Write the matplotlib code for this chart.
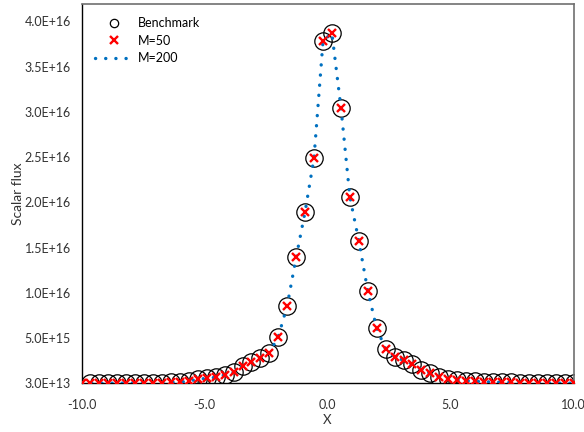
import matplotlib
matplotlib.use('Agg')
import matplotlib.pyplot as plt
from matplotlib.lines import Line2D

# ---- data ----
x_pos = [-10.00, -9.64, -9.27, -8.91, -8.55, -8.18, -7.82, -7.45, -7.09, -6.73,
         -6.36, -6.00, -5.64, -5.27, -4.91, -4.55, -4.18, -3.82, -3.45, -3.09,
         -2.73, -2.36, -2.00, -1.64, -1.27, -0.91, -0.55, -0.18, 0.18, 0.55,
         0.91, 1.27, 1.64, 2.00, 2.36, 2.73, 3.09, 3.45, 3.82, 4.18,
         4.55, 4.91, 5.27, 5.64, 6.00, 6.36, 6.73, 7.09, 7.45, 7.82,
         8.18, 8.55, 8.91, 9.27, 9.64, 10.00]

m50 = [3.0e13, 3.5e13, 4.0e13, 4.5e13, 5.0e13, 6.0e13, 7.0e13, 8.0e13, 9.0e13, 1.1e14,
       1.3e14, 1.5e14, 2.8e14, 4.7e14, 5.8e14, 6.9e14, 9.5e14, 1.25e15, 1.91e15, 2.42e15,
       2.86e15, 3.41e15, 5.18e15, 8.6e15, 1.40e16, 1.90e16, 2.49e16, 3.79e16, 3.87e16, 3.04e16,
       2.06e16, 1.58e16, 1.02e16, 6.1e15, 3.82e15, 2.97e15, 2.57e15, 2.14e15, 1.55e15, 1.14e15,
       6.9e14, 5.4e14, 4.0e14, 3.2e14, 2.5e14, 2.1e14, 1.7e14, 1.4e14, 1.2e14, 1.0e14,
       9.0e13, 8.0e13, 7.0e13, 6.0e13, 5.0e13, 4.0e13]

bench_x = x_pos[1:]
benchmark = [3.5e13, 4.0e13, 4.5e13, 5.0e13, 6.0e13, 7.0e13, 8.0e13, 9.0e13, 1.1e14,
             1.3e14, 1.5e14, 2.8e14, 4.7e14, 5.8e14, 6.9e14, 9.5e14, 1.25e15, 1.91e15, 2.42e15,
             2.86e15, 3.41e15, 5.18e15, 8.6e15, 1.40e16, 1.90e16, 2.49e16, 3.79e16, 3.87e16, 3.04e16,
             2.06e16, 1.58e16, 1.02e16, 6.1e15, 3.82e15, 2.97e15, 2.57e15, 2.14e15, 1.55e15, 1.14e15,
             6.9e14, 5.4e14, 4.0e14, 3.2e14, 2.5e14, 2.1e14, 1.7e14, 1.4e14, 1.2e14, 1.0e14,
             9.0e13, 8.0e13, 7.0e13, 6.0e13, 5.0e13, 4.0e13]

m200 = [3.0e13, 3.5e13, 4.0e13, 4.5e13, 5.0e13, 6.0e13, 7.0e13, 8.0e13, 9.0e13, 1.1e14,
        1.3e14, 1.5e14, 2.8e14, 4.7e14, 5.8e14, 6.9e14, 9.5e14, 1.25e15, 1.91e15, 2.42e15,
        2.86e15, 3.41e15, 5.18e15, 8.6e15, 1.40e16, 1.90e16, 2.49e16, 3.79e16, 3.87e16, 3.04e16,
        2.06e16, 1.58e16, 1.02e16, 6.1e15, 3.82e15, 2.97e15, 2.57e15, 2.14e15, 1.55e15, 1.14e15,
        6.9e14, 5.4e14, 4.0e14, 3.2e14, 2.5e14, 2.1e14, 1.7e14, 1.4e14, 1.2e14, 1.0e14,
        9.0e13, 8.0e13, 7.0e13, 6.0e13, 5.0e13, 4.0e13]

x_ticks = [-10, -5, 0, 5, 10]
x_tick_labels = ["-10.0", "-5.0", "0.0", "5.0", "10.0"]
y_ticks = [3.0e13, 5.03e15, 1.003e16, 1.503e16, 2.003e16, 2.503e16, 3.003e16, 3.503e16, 4.003e16]
y_tick_labels = ["3.0E+13", "5.0E+15", "1.0E+16", "1.5E+16", "2.0E+16",
                 "2.5E+16", "3.0E+16", "3.5E+16", "4.0E+16"]

plt.rcParams['font.family'] = ['Lato', 'DejaVu Sans']

W, H = 584, 432
fig = plt.figure(figsize=(W / 100, H / 100), dpi=100)
left, right, top, bottom = 81.5, 573.5, 3.5, 383.3
ax = fig.add_axes([left / W, (H - bottom) / H, (right - left) / W, (bottom - top) / H])

ax.plot(bench_x, benchmark, ls='none', marker='o', ms=12.5, mfc='none', mec='black',
        mew=0.9, zorder=2)
ax.plot(x_pos, m200, color='#0070C0', lw=2.4, ls=(0, (0.05, 3.0)),
        dash_capstyle='round', zorder=3)
ax.plot(x_pos, m50, ls='none', marker='x', ms=6.0, mec='#FF0000', mew=1.7, zorder=4)

ax.set_xlim(-10, 10)
ax.set_ylim(3.0e13, 4.2e16)
ax.set_xticks(x_ticks)
ax.set_xticklabels(x_tick_labels)
ax.set_yticks(y_ticks)
ax.set_yticklabels(y_tick_labels)
ax.tick_params(axis='both', length=0, labelsize=9, colors='#333333')
ax.tick_params(axis='x', pad=11)
ax.tick_params(axis='y', pad=7.5)

for s in ('left', 'bottom'):
    ax.spines[s].set_color('black')
    ax.spines[s].set_linewidth(1.0)
for s in ('top', 'right'):
    ax.spines[s].set_color('#707070')
    ax.spines[s].set_linewidth(1.2)

ax.set_xlabel('X', fontsize=9.5, color='#333333')
ax.xaxis.set_label_coords(0.5, -(420 - bottom) / (bottom - top))
ax.xaxis.label.set_va('center')
ax.set_ylabel('Scalar flux', fontsize=10, color='#333333')
ax.yaxis.set_label_coords(-(left - 18) / (right - left), 0.5)
ax.yaxis.label.set_va('center')

handles = [
    Line2D([], [], ls='none', marker='o', ms=6.0, mfc='none', mec='black', mew=0.9),
    Line2D([], [], ls='none', marker='x', ms=5.5, mec='#FF0000', mew=1.7),
    Line2D([], [], color='#0070C0', lw=2.4, ls=(0, (0.05, 3.0)), dash_capstyle='round'),
]
leg = ax.legend(handles, ['Benchmark', 'M=50', 'M=200'], loc='upper left',
                bbox_to_anchor=((95 - left) / (right - left), 1 - (17 - top) / (bottom - top)),
                frameon=False, fontsize=9, handlelength=3.0, handletextpad=0.4,
                labelspacing=0.45, borderpad=0, borderaxespad=0)

fig.savefig('out.png', dpi=100)
